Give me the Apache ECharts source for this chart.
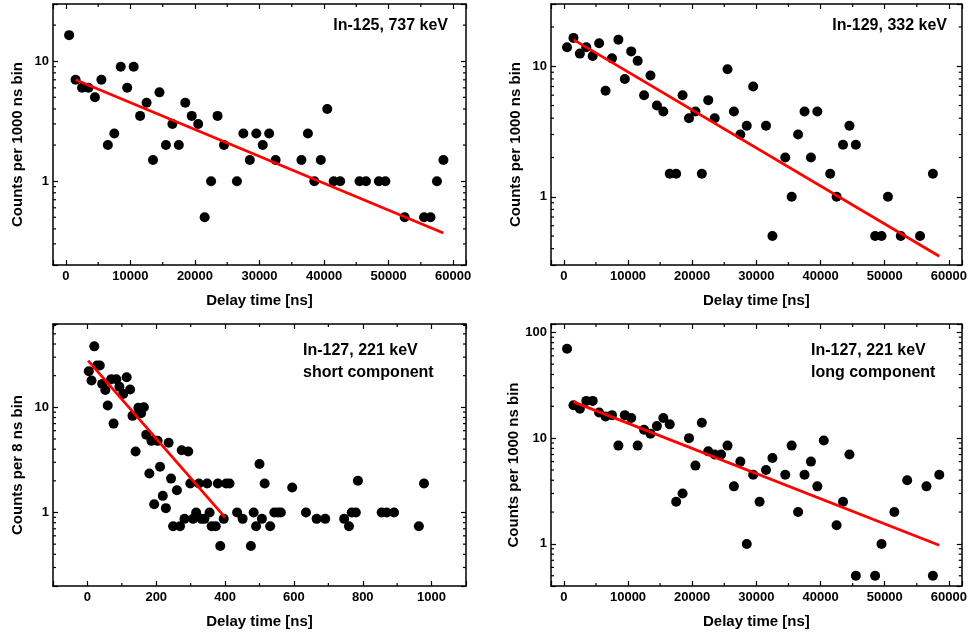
<!DOCTYPE html>
<html><head><meta charset="utf-8">
<script src="https://cdn.jsdelivr.net/npm/echarts@6/dist/echarts.min.js"></script>
<style>html,body{margin:0;padding:0;background:#fff}#c{width:970px;height:636px}</style>
</head><body><div id="c"></div>
<script>
// ---------- data ----------
const in125Time = [500,1500,2500,3500,4500,5500,6500,7500,8500,9500,10500,11500,12500,13500,14500,15500,16500,17500,18500,19500,20500,21500,22500,23500,24500,26500,27500,28500,29500,30500,31500,32500,36500,37500,38500,39500,40500,41500,42500,45500,46500,48500,49500,52500,55500,56500,57500,58500];
const in125Counts = [16.5,7,6,6,5,7,2,2.5,9,6,9,3.5,4.5,1.5,5.5,2,3,2,4.5,3.5,3,0.5,1,3.5,2,1,2.5,1.5,2.5,2,2.5,1.5,1.5,2.5,1,1.5,4,1,1,1,1,1,1,0.5,0.5,0.5,1,1.5];
const in125Fit = [[1500,7.0],[58500,0.37]];

const in129Time = [500,1500,2500,3500,4500,5500,6500,7500,8500,9500,10500,11500,12500,13500,14500,15500,16500,17500,18500,19500,20500,21500,22500,23500,25500,26500,27500,28500,29500,31500,32500,34500,35500,36500,37500,38500,39500,41500,42500,43500,44500,45500,48500,49500,50500,52500,55500,57500];
const in129Counts = [14,16.5,12.5,14,12,15,6.5,11.5,16,8,13,11,6,8.5,5,4.5,1.5,1.5,6,4,4.5,1.5,5.5,4,9.5,4.5,3,3.5,7,3.5,0.5,2,1,3,4.5,2,4.5,1.5,1,2.5,3.5,2.5,0.5,0.5,1,0.5,0.5,1.5];
const in129Fit = [[1500,16.0],[58500,0.35]];

const in127ShortTime = [4,12,20,28,36,43,52,59,69,76,84,93,104,114,124,131,140,148,156,164,171,180,186,194,204,211,219,228,236,243,249,260,269,274,282,293,299,307,316,324,331,340,348,355,361,373,379,386,396,403,413,435,451,475,483,490,500,507,515,531,543,553,562,595,635,666,691,746,760,768,780,786,855,870,891,963,978];
const in127ShortCounts = [22,18,38,25,25,16.7,14.6,10.4,18.5,7,18.5,15.7,13.4,19.3,14.8,8.3,3.8,9.9,8.8,10,5.5,2.35,4.8,1.2,4.8,2.72,1.44,1.1,4.6,2.1,0.74,1.63,0.74,3.9,0.87,3.8,1.89,0.87,1.0,1.89,0.87,0.87,1.89,1.0,0.74,0.74,1.89,0.48,0.87,1.89,1.89,1.0,0.87,0.48,1.0,0.74,2.89,0.87,1.89,0.74,1.0,1.0,1.0,1.73,1.0,0.87,0.87,0.87,0.74,1.0,1.0,2.0,1.0,1.0,1.0,0.74,1.89];
const in127ShortFit = [[2,27.8],[400,0.9]];

const in127LongTime = [500,1500,2500,3500,4500,5500,6500,7500,8500,9500,10500,11500,12500,13500,14500,15500,16500,17500,18500,19500,20500,21500,22500,23500,24500,25500,26500,27500,28500,29500,30500,31500,32500,34500,35500,36500,37500,38500,39500,40500,42500,43500,44500,45500,48500,49500,51500,53500,56500,57500,58500];
const in127LongCounts = [70,20.5,19,22.5,22.5,17.5,16,16.5,8.5,16.5,15.5,8.5,12,11,13,15.5,13.5,2.5,3,10,5.5,14,7.5,7,7,8.5,3.5,6,1,4.5,2.5,5,6.5,4.5,8.5,2,4.5,6,3.5,9.5,1.5,2.5,7,0.5,0.5,1,2,4,3.5,0.5,4.5];
const in127LongFit = [[1500,22],[58500,0.97]];

const panelLabels = [["In-125, 737 keV"],["In-129, 332 keV"],["In-127, 221 keV","short component"],["In-127, 221 keV","long component"]];
const yTitles = ["Counts per 1000 ns bin","Counts per 1000 ns bin","Counts per 8 ns bin","Counts per 1000 ns bin"];
const xTitle = "Delay time [ns]";
const xMinorLong = [5000,15000,25000,35000,45000,55000];
const xMinorShort = [100,300,500,700,900];

// ---------- layout ----------
const FONT = "'Liberation Sans', Arial, Helvetica, sans-serif";
const panels = [
  {time:in125Time, counts:in125Counts, fit:in125Fit, xmin:-2000, xmax:62000, xstep:10000, ymin:0.2, ymax:30, xminor:xMinorLong,
   grid:{left:53, top:4, width:413, height:261}},
  {time:in129Time, counts:in129Counts, fit:in129Fit, xmin:-2000, xmax:62000, xstep:10000, ymin:0.3, ymax:30, xminor:xMinorLong,
   grid:{left:551, top:4, width:413, height:261}},
  {time:in127ShortTime, counts:in127ShortCounts, fit:in127ShortFit, xmin:-100, xmax:1100, xstep:200, ymin:0.2, ymax:62, xminor:xMinorShort,
   grid:{left:53, top:324, width:413, height:262}},
  {time:in127LongTime, counts:in127LongCounts, fit:in127LongFit, xmin:-2000, xmax:62000, xstep:10000, ymin:0.4, ymax:120, xminor:xMinorLong,
   grid:{left:551, top:324, width:413, height:262}}
];

function logMinors(lo, hi) {
  const out = [];
  for (let k = -2; k <= 3; k++) {
    for (let m = 2; m <= 9; m++) {
      const v = m * Math.pow(10, k);
      if (v > lo * 1.0001 && v < hi * 0.9999) out.push(v);
    }
  }
  return out;
}

const axisLine = {show:true, onZero:false, lineStyle:{color:'#000', width:1.5}};
const axisTick = {show:true, inside:true, length:5, lineStyle:{color:'#000', width:1.2}};
const labelStyle = {fontSize:13, fontWeight:'bold', color:'#000', fontFamily:FONT};

const grids = [], xAxes = [], yAxes = [], series = [], graphics = [];
panels.forEach((p, i) => {
  grids.push(Object.assign({containLabel:false}, p.grid));
});
// bottom x / left y axes (index 0..3)
panels.forEach((p, i) => {
  xAxes.push({type:'value', gridIndex:i, position:'bottom', min:p.xmin, max:p.xmax,
    axisLine, axisTick, splitLine:{show:false},
    axisLabel:Object.assign({margin:5, formatter:(v)=> (Math.abs(v % p.xstep) < 1e-9 ? String(v) : '')}, labelStyle),
    name:xTitle, nameLocation:'middle', nameGap:28,
    nameTextStyle:{fontSize:15, fontWeight:'bold', color:'#000', fontFamily:FONT}});
  yAxes.push({type:'log', logBase:10, gridIndex:i, position:'left', min:p.ymin, max:p.ymax,
    axisLine, axisTick, splitLine:{show:false}, minorTick:{show:false},
    axisLabel:Object.assign({margin:4, formatter:(v)=>{const l=Math.log10(v); return Math.abs(l-Math.round(l))<1e-6 ? String(Math.round(v*1000)/1000) : '';}}, labelStyle),
    name:yTitles[i], nameLocation:'middle', nameGap:28,
    nameTextStyle:{fontSize:15, fontWeight:'bold', color:'#000', fontFamily:FONT, padding:[0,20,0,0]}});
});
// top x / right y mirror axes (index 4..7)
panels.forEach((p, i) => {
  xAxes.push({type:'value', gridIndex:i, position:'top', min:p.xmin, max:p.xmax,
    axisLine, axisTick, splitLine:{show:false}, axisLabel:{show:false}});
  yAxes.push({type:'log', logBase:10, gridIndex:i, position:'right', min:p.ymin, max:p.ymax,
    axisLine, axisTick, splitLine:{show:false}, axisLabel:{show:false}});
});

function renderMinor(params, api) {
  const kind = api.value(2);
  const pt = api.coord([api.value(0), api.value(1)]);
  const cs = params.coordSys;
  const style = {stroke:'#000', lineWidth:1.2};
  if (kind === 0) {
    const b = cs.y + cs.height;
    return {type:'group', children:[
      {type:'line', shape:{x1:pt[0], y1:b, x2:pt[0], y2:b-3}, style},
      {type:'line', shape:{x1:pt[0], y1:cs.y, x2:pt[0], y2:cs.y+3}, style}]};
  }
  const r = cs.x + cs.width;
  return {type:'group', children:[
    {type:'line', shape:{x1:cs.x, y1:pt[1], x2:cs.x+3, y2:pt[1]}, style},
    {type:'line', shape:{x1:r, y1:pt[1], x2:r-3, y2:pt[1]}, style}]};
}

panels.forEach((p, i) => {
  const minorData = p.xminor.map(v => [v, p.ymin, 0])
    .concat(logMinors(p.ymin, p.ymax).map(v => [p.xmin, v, 1]));
  series.push({type:'custom', xAxisIndex:i, yAxisIndex:i, data:minorData, renderItem:renderMinor,
    silent:true, clip:false, z:1});
  series.push({type:'scatter', xAxisIndex:i, yAxisIndex:i, symbol:'circle', symbolSize:10,
    itemStyle:{color:'#000', opacity:1}, data:p.time.map((t, k) => [t, p.counts[k]]), z:3, silent:true});
  series.push({type:'line', xAxisIndex:i, yAxisIndex:i, data:p.fit, showSymbol:false, symbol:'none',
    lineStyle:{color:'#ff0000', width:2.8}, z:4, silent:true});
});

// panel annotations
const annot = [
  {x:448, y:26, align:'right'},
  {x:947, y:26, align:'right'},
  {x:303, y:351, align:'left'},
  {x:811, y:351, align:'left'}
];
panelLabels.forEach((lines, i) => {
  lines.forEach((t, j) => {
    graphics.push({type:'text', x:annot[i].x, y:annot[i].y + j*22, silent:true,
      style:{text:t, font:'bold 16px ' + FONT, fill:'#000', align:annot[i].align, verticalAlign:'middle'}});
  });
});

const chart = echarts.init(document.getElementById('c'), null, {renderer:'canvas'});
chart.setOption({animation:false, backgroundColor:'#fff', grid:grids, xAxis:xAxes, yAxis:yAxes, series, graphic:graphics});
</script></body></html>
